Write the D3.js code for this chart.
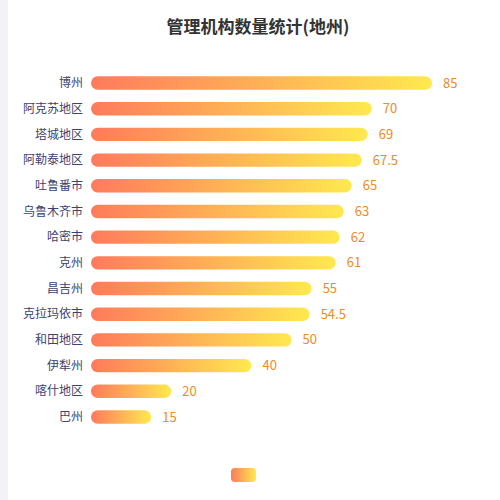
<!DOCTYPE html><html><head><meta charset="utf-8"><script src="https://d3js.org/d3.v7.min.js"></script>
<style>body{margin:0;background:#fff}</style></head><body><svg id="c" width="500" height="500"></svg>
<script>
const categories=["博州","阿克苏地区","塔城地区","阿勒泰地区","吐鲁番市","乌鲁木齐市","哈密市","克州","昌吉州","克拉玛依市","和田地区","伊犁州","喀什地区","巴州"];
const values=[85,70,69,67.5,65,63,62,61,55,54.5,50,40,20,15];
const svg=d3.select("#c");
const font="'Noto Sans CJK SC','Noto Sans',sans-serif";
svg.append("rect").attr("x",0).attr("y",0).attr("width",8).attr("height",500).attr("fill","#f2f2f7");
const defs=svg.append("defs");
const g=defs.append("linearGradient").attr("id","gr").attr("x1","0%").attr("x2","100%");
g.append("stop").attr("offset","0%").attr("stop-color","#ff7a5c");
g.append("stop").attr("offset","100%").attr("stop-color","#ffe94f");
svg.append("text").attr("x",258).attr("y",33).attr("text-anchor","middle").attr("font-family",font).attr("font-size",17).attr("font-weight","bold").attr("fill","#333").text("管理机构数量统计(地州)");
const x=d3.scaleLinear().domain([0,85]).range([91,432]);
const y=d3.scaleBand().domain(categories).range([64,436]).padding(0.48);
const bh=y.bandwidth();
categories.forEach((c,i)=>{
  const yy=y(c);
  svg.append("rect").attr("x",x(0)).attr("y",yy).attr("width",x(values[i])-x(0)).attr("height",bh).attr("rx",bh/2).attr("fill","url(#gr)");
  svg.append("text").attr("x",83).attr("y",yy+bh/2).attr("dy","0.35em").attr("text-anchor","end").attr("font-family",font).attr("font-size",12).attr("fill","#3c4370").text(c);
  svg.append("text").attr("x",x(values[i])+11).attr("y",yy+bh/2).attr("dy","0.35em").attr("font-family",font).attr("font-size",13).attr("fill","#f28a1e").text(values[i]);
});
svg.append("rect").attr("x",231).attr("y",468).attr("width",25).attr("height",14).attr("rx",4).attr("fill","url(#gr)");
</script></body></html>
